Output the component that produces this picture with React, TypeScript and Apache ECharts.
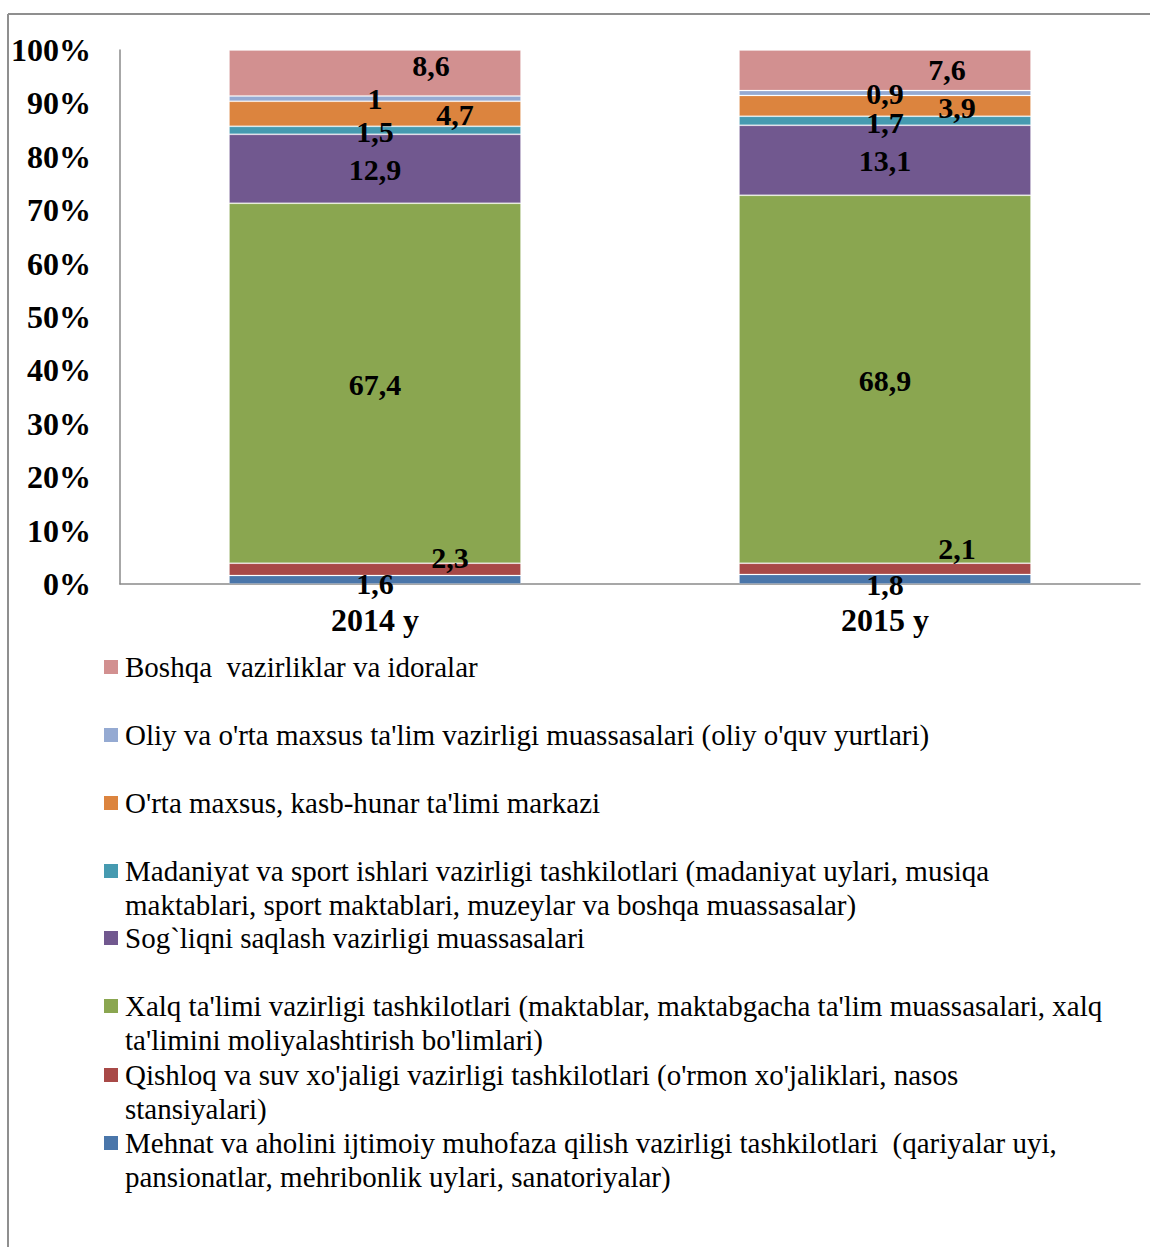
import React, { useEffect, useRef } from "react";
import * as echarts from "echarts";

const categories = ["2014 y", "2015 y"];

const seriesNames = [
  "Mehnat va aholini ijtimoiy muhofaza qilish vazirligi tashkilotlari  (qariyalar uyi, pansionatlar, mehribonlik uylari, sanatoriyalar)",
  "Qishloq va suv xo'jaligi vazirligi tashkilotlari (o'rmon xo'jaliklari, nasos stansiyalari)",
  "Xalq ta'limi vazirligi tashkilotlari (maktablar, maktabgacha ta'lim muassasalari, xalq ta'limini moliyalashtirish bo'limlari)",
  "Sog`liqni saqlash vazirligi muassasalari",
  "Madaniyat va sport ishlari vazirligi tashkilotlari (madaniyat uylari, musiqa maktablari, sport maktablari, muzeylar va boshqa muassasalar)",
  "O'rta maxsus, kasb-hunar ta'limi markazi",
  "Oliy va o'rta maxsus ta'lim vazirligi muassasalari (oliy o'quv yurtlari)",
  "Boshqa  vazirliklar va idoralar",
];

// legend lines as wrapped in the reference
const legendLines = [
  ["Mehnat va aholini ijtimoiy muhofaza qilish vazirligi tashkilotlari  (qariyalar uyi,", "pansionatlar, mehribonlik uylari, sanatoriyalar)"],
  ["Qishloq va suv xo'jaligi vazirligi tashkilotlari (o'rmon xo'jaliklari, nasos", "stansiyalari)"],
  ["Xalq ta'limi vazirligi tashkilotlari (maktablar, maktabgacha ta'lim muassasalari, xalq", "ta'limini moliyalashtirish bo'limlari)"],
  ["Sog`liqni saqlash vazirligi muassasalari"],
  ["Madaniyat va sport ishlari vazirligi tashkilotlari (madaniyat uylari, musiqa", "maktablari, sport maktablari, muzeylar va boshqa muassasalar)"],
  ["O'rta maxsus, kasb-hunar ta'limi markazi"],
  ["Oliy va o'rta maxsus ta'lim vazirligi muassasalari (oliy o'quv yurtlari)"],
  ["Boshqa  vazirliklar va idoralar"],
];

const mehnat = [1.6, 1.8];
const qishloq = [2.3, 2.1];
const xalq = [67.4, 68.9];
const sogliq = [12.9, 13.1];
const madaniyat = [1.5, 1.7];
const ortaMaxsus = [4.7, 3.9];
const oliy = [1.0, 0.9];
const boshqa = [8.6, 7.6];

const seriesValues = [mehnat, qishloq, xalq, sogliq, madaniyat, ortaMaxsus, oliy, boshqa];

const yTickLabels = ["0%", "10%", "20%", "30%", "40%", "50%", "60%", "70%", "80%", "90%", "100%"];

const colors = ["#4A76AA", "#A84947", "#8AA650", "#71588F", "#469AB0", "#DC843E", "#95AAD2", "#D29090"];

// label offsets [series][category] -> [dx, dy]
const labelOffsets = [
  [[0, 4], [0, 5]],
  [[75, -12], [72, -20]],
  [[0, 1], [0, 1]],
  [[0, 1], [0, 0]],
  [[0, 1], [0, 2]],
  [[80, 1], [72, 2]],
  [[0, 0], [0, 1]],
  [[56, -7], [62, -1]],
];

const FONT = '"Liberation Serif", "Times New Roman", serif';

export default function App() {
  const ref = useRef<HTMLDivElement>(null);

  useEffect(() => {
    if (!ref.current) return;
    const chart = echarts.init(ref.current, null, { renderer: "svg" });

    const series = seriesNames.map((name, si) => ({
      name,
      type: "bar",
      stack: "total",
      barWidth: 292,
      itemStyle: {
        color: colors[si],
        borderColor: "rgba(255,255,255,0.2)",
        borderWidth: 1,
      },
      label: {
        show: true,
        position: "inside",
        fontFamily: FONT,
        fontWeight: "bold",
        fontSize: 30,
        lineHeight: 26,
        color: "#000",
        formatter: (p: any) => String(p.value).replace(".", ","),
      },
      data: seriesValues[si].map((v, ci) => ({
        value: v,
        label: { offset: labelOffsets[si][ci] },
      })),
    }));

    const legendTop = [1143, 1075, 1006, 938, 871, 803, 735, 667];
    const graphics: any[] = [
      { type: "line", shape: { x1: 8, y1: 14, x2: 1150, y2: 14 }, style: { stroke: "#8f8f8f", lineWidth: 2 } },
      { type: "line", shape: { x1: 8, y1: 14, x2: 8, y2: 1247 }, style: { stroke: "#8f8f8f", lineWidth: 2 } },
    ];
    seriesNames.forEach((_, si) => {
      const cy = legendTop[si];
      graphics.push({
        type: "rect",
        shape: { x: 104, y: cy - 7, width: 14, height: 14 },
        style: { fill: colors[si] },
      });
      graphics.push({
        type: "text",
        x: 125,
        y: cy - 17,
        style: {
          text: legendLines[si].join("\n"),
          font: `29px ${FONT}`,
          fill: "#000",
          lineHeight: 34,
          verticalAlign: "top",
          align: "left",
        },
      });
    });

    chart.setOption({
      animation: false,
      backgroundColor: "#fff",
      grid: { left: 120, top: 50, right: 10, height: 534 },
      xAxis: {
        type: "category",
        data: categories,
        axisLine: { lineStyle: { color: "#8a8a8a", width: 1.5 } },
        axisTick: { show: false },
        axisLabel: {
          fontFamily: FONT,
          fontWeight: "bold",
          fontSize: 32,
          color: "#000",
          margin: 20,
        },
      },
      yAxis: {
        type: "value",
        min: 0,
        max: 100,
        interval: 10,
        axisLine: { show: true, lineStyle: { color: "#8a8a8a", width: 1.5 } },
        axisTick: { show: false },
        splitLine: { show: false },
        axisLabel: {
          fontFamily: FONT,
          fontWeight: "bold",
          fontSize: 32,
          color: "#000",
          margin: 29,
          formatter: (v: number) => yTickLabels[Math.round(v / 10)],
        },
      },
      series,
      graphic: graphics,
    });

    return () => chart.dispose();
  }, []);

  return (
    <div
      ref={ref}
      style={{ position: "absolute", left: 0, top: 0, width: 1150, height: 1247 }}
    />
  );
}
